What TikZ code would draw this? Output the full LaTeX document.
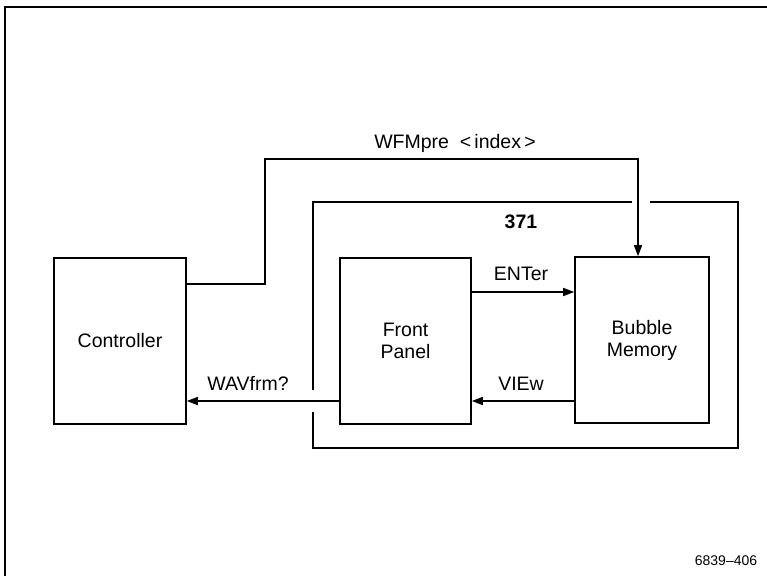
\documentclass[tikz,border=0pt]{standalone}
\usepackage{fontspec}
\setmainfont{Liberation Sans}
\usetikzlibrary{arrows.meta}
\begin{document}
\begin{tikzpicture}[x=1pt,y=-1pt,line width=1.6pt,
  box/.style={draw,align=center,inner sep=0pt,font=\fontsize{19.5}{22}\selectfont},
  lbl/.style={font=\fontsize{19.5}{22}\selectfont,inner sep=0pt},
  arr/.style={-{Triangle[length=11pt,width=8pt]}}]
\useasboundingbox (0,0) rectangle (767,576);
% outer frame
\draw (5,576) -- (5,7) -- (767,7);
% blocks
\node[box,minimum width=132pt,minimum height=166pt] (ctrl) at (120,341) {Controller};
\node[box,minimum width=131pt,minimum height=166pt] (fp) at (405.5,341) {Front\\Panel};
\node[box,minimum width=134pt,minimum height=166pt] (bm) at (642,340) {Bubble\\Memory};
% 371 enclosure
\draw (632,202) -- (313,202) -- (313,390);
\draw (313,412) -- (313,448) -- (738,448) -- (738,202) -- (650,202);
\node[lbl,font=\fontsize{19.5}{22}\selectfont\bfseries] (n371) at (521,222) {371};
% connectors
\coordinate (w1) at (265,284);
\coordinate (w2) at (265,159);
\coordinate (w3) at (638,159);
\draw[arr] (ctrl.east |- w1) -- (w1) -- (w2) -- (w3) -- (w3 |- bm.north);
\node[lbl] (wfm) at (455,143) {WFMpre\ \ <\,index\,>};
\coordinate (e1) at (0,292);
\draw[arr] (fp.east |- e1) -- (bm.west |- e1);
\node[lbl] (ent) at (521,274) {ENTer};
\coordinate (v1) at (0,401);
\draw[arr] (bm.west |- v1) -- (fp.east |- v1);
\node[lbl] (view) at (521,384) {VIEw};
\draw[arr] (fp.west |- v1) -- (ctrl.east |- v1);
\node[lbl] (wav) at (248,383) {WAVfrm?};
\node[font=\fontsize{14}{16}\selectfont,inner sep=0pt] (fig) at (726,561) {6839--406};
\end{tikzpicture}
\end{document}
